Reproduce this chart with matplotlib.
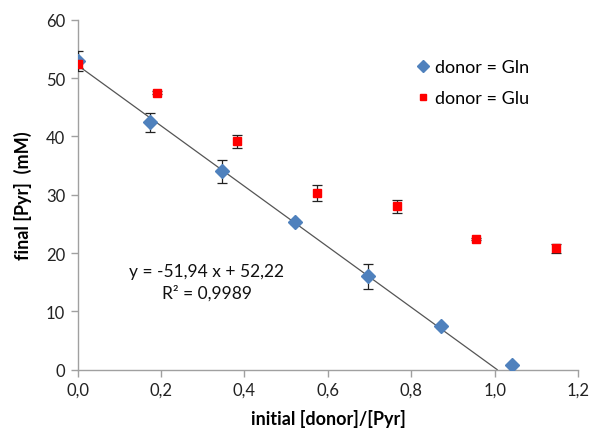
import matplotlib
matplotlib.use("Agg")
import matplotlib.pyplot as plt

plt.rcParams['font.family'] = ['Lato', 'DejaVu Sans']

# Data
gln_x = [0.0, 0.174, 0.347, 0.521, 0.695, 0.870, 1.042]
gln_y = [53.0, 42.4, 34.0, 25.3, 16.0, 7.4, 0.86]
gln_err = [1.7, 1.7, 2.0, 0.4, 2.1, 0.3, 0.0]

glu_x = [0.0, 0.190, 0.381, 0.573, 0.765, 0.955, 1.146]
glu_y = [52.4, 47.5, 39.2, 30.3, 28.0, 22.4, 20.8]
glu_err = [0.7, 0.3, 1.1, 1.3, 1.1, 0.2, 0.8]

slope, intercept = -51.94, 52.22
x_ticks = [0.0, 0.2, 0.4, 0.6, 0.8, 1.0, 1.2]
x_tick_labels = ["0,0", "0,2", "0,4", "0,6", "0,8", "1,0", "1,2"]
y_ticks = [0, 10, 20, 30, 40, 50, 60]

fig = plt.figure(figsize=(5.92, 4.35), dpi=100)
ax = fig.add_axes([0.131, 0.148, 0.846, 0.804])

# trendline
x_end = -intercept / slope
ax.plot([0, x_end], [intercept, slope * x_end + intercept], color='#555555', lw=0.9, zorder=2)

ax.errorbar(gln_x, gln_y, yerr=gln_err, fmt='none',
            ecolor='#222222', elinewidth=0.9, capsize=3.5, capthick=0.9, zorder=3)
ax.errorbar(glu_x, glu_y, yerr=glu_err, fmt='none',
            ecolor='#222222', elinewidth=0.9, capsize=3.5, capthick=0.9, zorder=3)
ax.plot(gln_x, gln_y, 'D', color='#4F81BD', ms=7.0, ls='none',
        label='donor = Gln', zorder=4)
ax.plot(glu_x, glu_y, 's', color='#FF0000', ms=5.8, ls='none',
        label='donor = Glu', zorder=4)

ax.set_xlim(0, 1.2)
ax.set_ylim(0, 60)
ax.set_xticks(x_ticks)
ax.set_xticklabels(x_tick_labels)
ax.set_yticks(y_ticks)

for s in ['top', 'right']:
    ax.spines[s].set_visible(False)
for s in ['left', 'bottom']:
    ax.spines[s].set_color('#A0A0A0')
    ax.spines[s].set_linewidth(1.0)
ax.tick_params(direction='out', length=5, width=1.0, color='#A0A0A0',
               labelsize=12, labelcolor='#222222', pad=4)

ax.set_xlabel('initial [donor]/[Pyr]', fontsize=13, fontweight='bold', labelpad=8)
ax.set_ylabel('final [Pyr]  (mM)', fontsize=13, fontweight='bold', labelpad=10)

ax.text(0.309, 15.0, 'y = -51,94 x + 52,22\nR² = 0,9989', ha='center', va='center',
        fontsize=12.5, linespacing=1.4, color='#111111')

leg = ax.legend(loc='upper left', bbox_to_anchor=(0.64, 0.935), frameon=False,
                fontsize=13, handletextpad=0.15, labelspacing=0.85, handlelength=1.0,
                markerscale=0.85)

fig.savefig('out.png', dpi=100)
